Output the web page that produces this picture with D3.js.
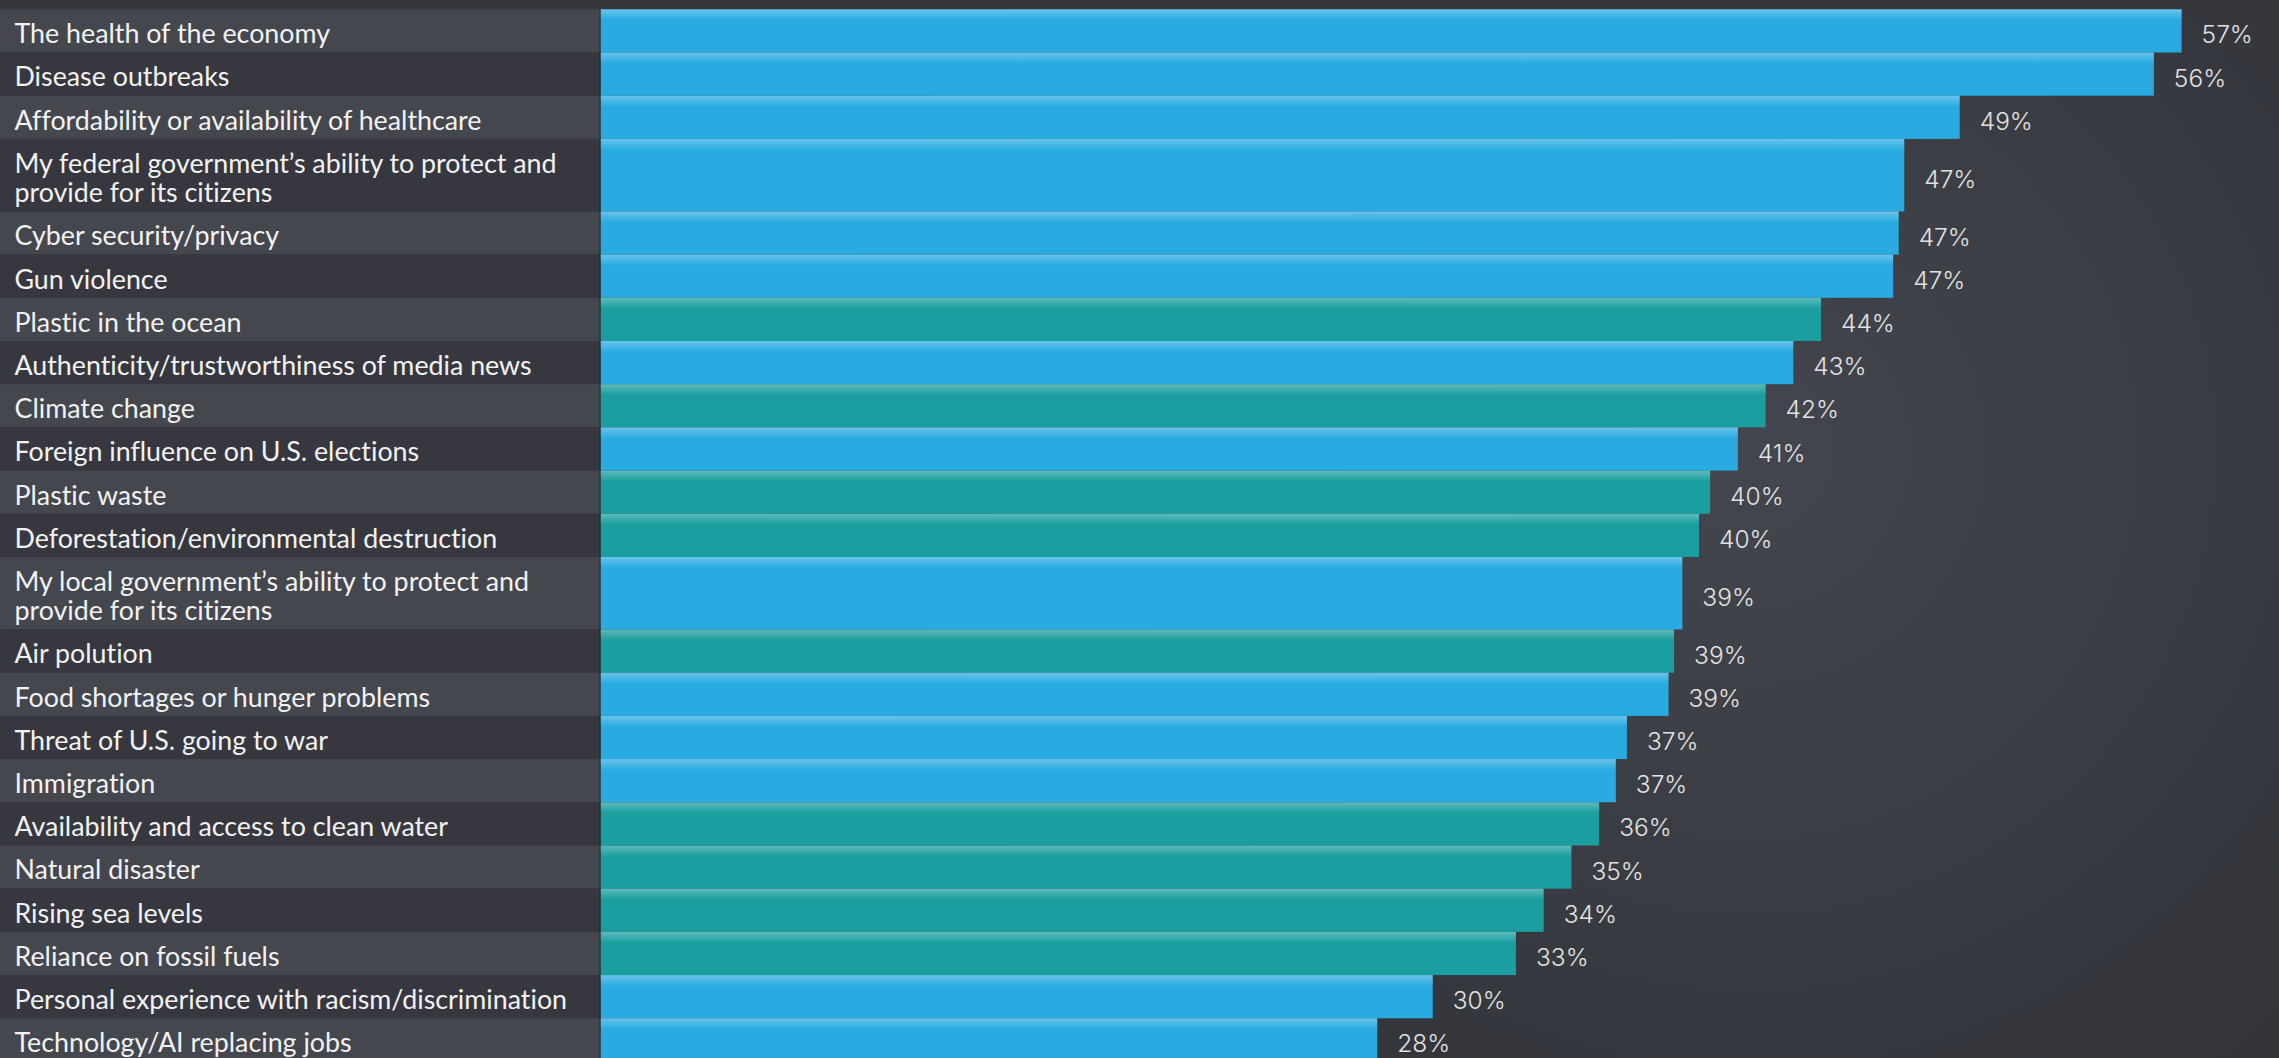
<!DOCTYPE html>
<html>
<head>
<meta charset="utf-8">
<script src="https://cdn.jsdelivr.net/npm/d3@7"></script>
<style>
  html, body { margin: 0; padding: 0; background: #36373d; overflow: hidden; }
  svg { display: block; }
  text { font-variant-ligatures: none; }
</style>
</head>
<body>
<script>
// Concerns, top to bottom. "\n" marks a two line label.
const categories = [
  "The health of the economy",
  "Disease outbreaks",
  "Affordability or availability of healthcare",
  "My federal government\u2019s ability to protect and\nprovide for its citizens",
  "Cyber security/privacy",
  "Gun violence",
  "Plastic in the ocean",
  "Authenticity/trustworthiness of media news",
  "Climate change",
  "Foreign influence on U.S. elections",
  "Plastic waste",
  "Deforestation/environmental destruction",
  "My local government\u2019s ability to protect and\nprovide for its citizens",
  "Air polution",
  "Food shortages or hunger problems",
  "Threat of U.S. going to war",
  "Immigration",
  "Availability and access to clean water",
  "Natural disaster",
  "Rising sea levels",
  "Reliance on fossil fuels",
  "Personal experience with racism/discrimination",
  "Technology/AI replacing jobs"
]

// share of respondents, % (bar lengths)
const values = [57.0, 56.0, 49.0, 47.0, 46.8, 46.6, 44.0, 43.0, 42.0, 41.0, 40.0, 39.6,
                39.0, 38.7, 38.5, 37.0, 36.6, 36.0, 35.0, 34.0, 33.0, 30.0, 28.0]

// "env" bars are teal, the rest blue
const groups = ["other", "other", "other", "other", "other", "other", "env", "other", "env",
                "other", "env", "env", "other", "env", "other", "other", "other", "env",
                "env", "env", "env", "other", "other"]

const width = 2279
const height = 1058
const topY = 9.3
const rowUnit = 43.2          // single line row height
const doubleUnits = 1.678     // two line rows are this many units tall
const labelBand = 600.7

const colors = { other: "#29abe2", env: "#1a9e9f" }

const rows = categories.map((c, i) => ({
  label: c.split("\n"),
  value: values[i],
  group: groups[i]
}))
let acc = 0
rows.forEach(r => {
  r.u0 = acc
  acc += r.label.length > 1 ? doubleUnits : 1
  r.u1 = acc
})

const x = d3.scaleLinear()
  .domain([0, 57])
  .range([labelBand, 2181.6])

const y = d3.scaleLinear()
  .domain([0, acc])
  .range([topY, topY + acc * rowUnit])

const svg = d3.select("body")
  .append("svg")
  .attr("width", width)
  .attr("height", height)

const defs = svg.append("defs")

const bg = defs.append("radialGradient")
  .attr("id", "bg")
  .attr("gradientUnits", "userSpaceOnUse")
  .attr("cx", 1750).attr("cy", 450).attr("r", 1000)
bg.append("stop").attr("offset", 0).attr("stop-color", "#43464e")
bg.append("stop").attr("offset", 1).attr("stop-color", "#2d2f34")

const shine = defs.append("linearGradient")
  .attr("id", "shine")
  .attr("x1", 0).attr("y1", 0).attr("x2", 0).attr("y2", 1)
shine.append("stop").attr("offset", 0).attr("stop-color", "#fff").attr("stop-opacity", 0.3)
shine.append("stop").attr("offset", 1).attr("stop-color", "#fff").attr("stop-opacity", 0)

// background
svg.append("rect")
  .attr("width", width)
  .attr("height", height)
  .attr("fill", "url(#bg)")

svg.append("rect")
  .attr("width", width)
  .attr("height", topY)
  .attr("fill", "#36373d")

// label band, alternating stripes
svg.append("g")
  .selectAll("rect")
  .data(rows)
  .join("rect")
    .attr("x", 0)
    .attr("y", d => y(d.u0))
    .attr("width", labelBand)
    .attr("height", d => y(d.u1) - y(d.u0))
    .attr("fill", (d, i) => i % 2 === 0 ? "#45474e" : "#37383f")

// bars
const bars = svg.append("g")
  .selectAll("g")
  .data(rows)
  .join("g")

bars.append("rect")
    .attr("x", x(0))
    .attr("y", d => y(d.u0))
    .attr("width", d => x(d.value) - x(0))
    .attr("height", d => y(d.u1) - y(d.u0))
    .attr("fill", d => colors[d.group])

bars.append("rect")
    .attr("x", x(0))
    .attr("y", d => y(d.u0))
    .attr("width", d => x(d.value) - x(0))
    .attr("height", 11)
    .attr("fill", "url(#shine)")

// thin shadow where the bars meet the label band
svg.append("rect")
  .attr("x", labelBand - 1.5)
  .attr("y", topY)
  .attr("width", 1.5)
  .attr("height", height - topY)
  .attr("fill", "#000")
  .attr("opacity", 0.25)

// category labels
const labels = svg.append("g")
  .attr("font-family", "Lato, 'Open Sans', sans-serif")
  .attr("font-size", 26.8)
  .attr("fill", "#f2f2f2")

labels.selectAll("text")
  .data(rows)
  .join("text")
    .attr("x", 14.5)
    .attr("y", d => (y(d.u0) + y(d.u1)) / 2 + 3)
    .selectAll("tspan")
    .data(d => d.label.map((t, j) => ({ t, j, n: d.label.length })))
    .join("tspan")
      .attr("x", 14.5)
      .attr("dy", d => d.j === 0 ? (0.35 - (d.n - 1) * 0.54) + "em" : "1.08em")
      .text(d => d.t)

// value labels
svg.append("g")
  .attr("font-family", "Inter, 'Open Sans', sans-serif")
  .attr("font-weight", 300)
  .attr("font-size", 24.5)
  .attr("fill", "#e2e2e2")
  .selectAll("text")
  .data(rows)
  .join("text")
    .attr("x", d => x(d.value) + 20)
    .attr("y", d => (y(d.u0) + y(d.u1)) / 2 + 4)
    .attr("dy", "0.35em")
    .text(d => Math.round(d.value) + "%")
</script>
</body>
</html>
